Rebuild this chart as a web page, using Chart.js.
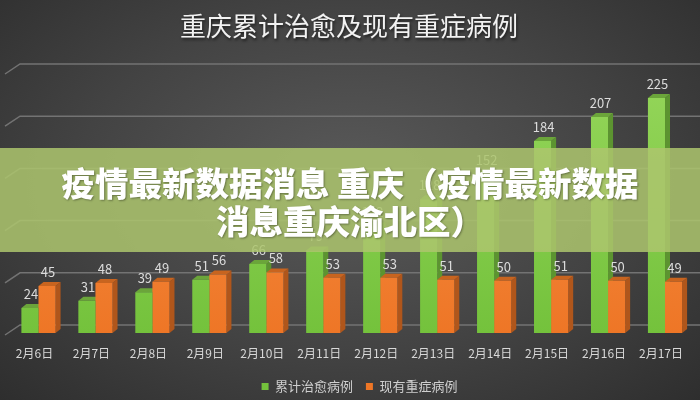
<!DOCTYPE html>
<html>
<head>
<meta charset="utf-8">
<script src="https://cdn.jsdelivr.net/npm/chart.js@4/dist/chart.umd.min.js"></script>
<style>
    html, body { margin: 0; padding: 0; }
    body { width: 700px; height: 400px; overflow: hidden; }
    #wrap {
        position: relative;
        width: 700px;
        height: 400px;
        background: radial-gradient(ellipse at 50% 45%, #5a5a5a 0%, #434343 55%, #2e2e2e 100%);
    }
    #title {
        position: absolute;
        left: 0;
        top: 9px;
        width: 698px;
        text-align: center;
        color: #f2f2f2;
        font-family: "Noto Sans CJK SC", sans-serif;
        font-size: 26px;
        line-height: 32px;
        text-shadow: 1px 2px 3px rgba(0, 0, 0, 0.6);
    }
    #banner {
        position: absolute;
        left: 0;
        top: 148px;
        width: 700px;
        height: 104px;
        background: rgba(172, 197, 110, 0.86);
        color: #fff;
        font-family: "Noto Sans CJK SC", sans-serif;
        font-weight: 900;
        font-size: 33.5px;
        line-height: 38px;
        text-align: center;
        padding-top: 15px;
        box-sizing: border-box;
        text-shadow: 1px 1px 2px rgba(0, 0, 0, 0.35);
    }
</style>
</head>
<body>
<div id="wrap">
    <canvas id="chart" width="700" height="400"></canvas>
    <div id="title">重庆累计治愈及现有重症病例</div>
    <div id="banner">疫情最新数据消息 重庆（疫情最新数据<br>消息重庆渝北区）</div>
</div>
<script>
const dates = ['2月6日', '2月7日', '2月8日', '2月9日', '2月10日', '2月11日',
    '2月12日', '2月13日', '2月14日', '2月15日', '2月16日', '2月17日'];
const curedTotal = [24, 31, 39, 51, 66, 79, 102, 128, 152, 184, 207, 225];
const severeNow = [45, 48, 49, 56, 58, 53, 53, 51, 50, 51, 50, 49];
const yTicks = [0, 50, 100, 150, 200, 250];

const FONT = '"Noto Sans CJK SC", sans-serif';
const DX = 5, DY = 4;          // bar depth
const faceColors = [
    { top: '#6ba53a', side: '#5c9430', hi: '#95d65a', lo: '#74c23c' },
    { top: '#c8641f', side: '#b0561b', hi: '#f7924a', lo: '#ee7626' }
];

function frontFill(i) {
    return function (context) {
        const chart = context.chart;
        const area = chart.chartArea;
        if (!area) return faceColors[i].lo;
        const g = chart.ctx.createLinearGradient(0, area.top, 0, area.bottom);
        g.addColorStop(0, faceColors[i].hi);
        g.addColorStop(1, faceColors[i].lo);
        return g;
    };
}

const depthPlugin = {
    id: 'depth',
    beforeDatasetsDraw(chart) {
        const ctx = chart.ctx;
        const yScale = chart.scales.y;
        const area = chart.chartArea;

        // back wall grid lines
        ctx.save();
        ctx.strokeStyle = '#737373';
        ctx.lineWidth = 1.5;
        yTicks.forEach(v => {
            const y = yScale.getPixelForValue(v) - 8;
            ctx.beginPath();
            ctx.moveTo(area.left - 5, y + 10);
            ctx.lineTo(area.left + 10, y);
            ctx.lineTo(700, y);
            ctx.stroke();
        });
        ctx.restore();

        // top and side faces
        chart.data.datasets.forEach((ds, di) => {
            const meta = chart.getDatasetMeta(di);
            meta.data.forEach(bar => {
                const p = bar.getProps(['x', 'y', 'base', 'width'], true);
                const l = p.x - p.width / 2, r = p.x + p.width / 2;
                ctx.save();
                ctx.fillStyle = faceColors[di].side;
                ctx.beginPath();
                ctx.moveTo(r, p.y);
                ctx.lineTo(r + DX, p.y - DY);
                ctx.lineTo(r + DX, p.base - DY);
                ctx.lineTo(r, p.base);
                ctx.closePath();
                ctx.fill();
                ctx.fillStyle = faceColors[di].top;
                ctx.beginPath();
                ctx.moveTo(l, p.y);
                ctx.lineTo(l + DX, p.y - DY);
                ctx.lineTo(r + DX, p.y - DY);
                ctx.lineTo(r, p.y);
                ctx.closePath();
                ctx.fill();
                ctx.restore();
            });
        });
    },
    afterDatasetsDraw(chart) {
        const ctx = chart.ctx;
        ctx.save();
        ctx.fillStyle = '#dcdcdc';
        ctx.font = '13px ' + FONT;
        ctx.textAlign = 'center';
        ctx.textBaseline = 'middle';
        chart.data.datasets.forEach((ds, di) => {
            const meta = chart.getDatasetMeta(di);
            meta.data.forEach((bar, i) => {
                const p = bar.getProps(['x', 'y'], true);
                ctx.fillText(ds.data[i], p.x + 1, p.y - 14);
            });
        });
        ctx.restore();
    }
};

new Chart(document.getElementById('chart'), {
    type: 'bar',
    data: {
        labels: dates,
        datasets: [{
            label: '累计治愈病例  ',
            data: curedTotal,
            backgroundColor: frontFill(0),
            borderWidth: 0
        }, {
            label: '现有重症病例',
            data: severeNow,
            backgroundColor: frontFill(1),
            borderWidth: 0
        }]
    },
    options: {
        responsive: false,
        animation: false,
        categoryPercentage: 0.6,
        barPercentage: 1,
        layout: {
            padding: { left: 10, right: -9, top: 72, bottom: -3 }
        },
        plugins: {
            title: { display: false },
            legend: {
                position: 'bottom',
                labels: {
                    color: '#cfcfcf',
                    font: { family: FONT, size: 13 },
                    boxWidth: 7,
                    boxHeight: 7,
                    padding: 7,
                    generateLabels(chart) {
                        return chart.data.datasets.map((ds, i) => ({
                            text: ds.label,
                            fillStyle: faceColors[i].lo,
                            strokeStyle: faceColors[i].lo,
                            lineWidth: 0,
                            fontColor: '#cfcfcf',
                            datasetIndex: i
                        }));
                    }
                }
            },
            tooltip: { enabled: false }
        },
        scales: {
            x: {
                grid: { display: false, drawTicks: false },
                border: { display: false },
                afterFit(scale) { scale.height = 40; },
                ticks: {
                    color: '#d8d8d8',
                    font: { family: FONT, size: 12 },
                    padding: 13,
                    labelOffset: -4,
                    maxRotation: 0,
                    autoSkip: false
                }
            },
            y: {
                display: false,
                min: 0,
                max: 250,
                ticks: { stepSize: 50 }
            }
        }
    },
    plugins: [depthPlugin]
});
</script>
</body>
</html>
